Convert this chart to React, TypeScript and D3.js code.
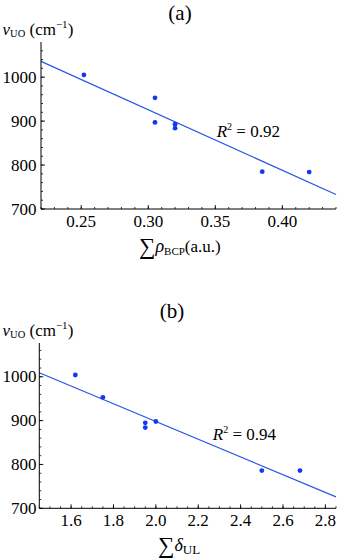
import React from "react";
import * as d3 from "d3";

const W = 338;
const H = 559;

// ---- Panel (a) data ----
const rhoBCP = [0.252, 0.305, 0.305, 0.32, 0.32, 0.385, 0.42];
const nuA = [1005, 953, 897, 893, 884, 785, 784];
const fitAx = [0.22, 0.44];
const fitAy = [1036, 733];
const xTicksA = [0.25, 0.3, 0.35, 0.4];
const xTickLabelsA = ["0.25", "0.30", "0.35", "0.40"];
const r2A = "0.92";

// ---- Panel (b) data ----
const deltaUL = [1.62, 1.75, 1.95, 1.95, 2.0, 2.5, 2.68];
const nuB = [1004, 953, 895, 884, 898, 786, 786];
const fitBx = [1.45, 2.85];
const fitBy = [1009, 726];
const xTicksB = [1.6, 1.8, 2.0, 2.2, 2.4, 2.6, 2.8];
const xTickLabelsB = ["1.6", "1.8", "2.0", "2.2", "2.4", "2.6", "2.8"];
const r2B = "0.94";

// shared y ticks
const yTicks = [700, 800, 900, 1000];
const yTickLabels = ["700", "800", "900", "1000"];

const FONT = "'Liberation Serif', 'Times New Roman', serif";
const BLUE_PT = "#1238f2";
const BLUE_LN = "#2a55e6";

type PanelProps = {
  xs: number[];
  ys: number[];
  fx: number[];
  fy: number[];
  xTicks: number[];
  xLabels: string[];
  xMinor: number[];
  yMinor: number[];
  xDomain: [number, number];
  yDomain: [number, number];
  left: number;
  right: number;
  top: number;
  bottom: number;
  r2: string;
  r2Pos: [number, number];
  title: string;
  titleX: number;
  titleY: number;
  yLabelY: number;
  xLabel: React.ReactNode;
};

function Panel(p: PanelProps) {
  const x = d3.scaleLinear().domain(p.xDomain).range([p.left, p.right]);
  const y = d3.scaleLinear().domain(p.yDomain).range([p.bottom, p.top]);
  const line = d3
    .line<number>()
    .x((_, i) => x(p.fx[i]))
    .y((d) => y(d));
  const ax = p.left;
  const ay = p.bottom;
  return (
    <g>
      <text x={p.titleX} y={p.titleY} fontFamily={FONT} fontSize={21} textAnchor="middle">
        {p.title}
      </text>
      <text x={2.5} y={p.yLabelY} fontFamily={FONT} fontSize={17}>
        <tspan fontStyle="italic">ν</tspan>
        <tspan fontSize={10.5} dy={2}>UO</tspan>
        <tspan dy={-2}> (cm</tspan>
        <tspan fontSize={11} dy={-7}>−1</tspan>
        <tspan dy={7}>)</tspan>
      </text>
      {/* fit line */}
      <path d={line(p.fy) || ""} fill="none" stroke={BLUE_LN} strokeWidth={1.2} />
      {/* axes */}
      <line x1={ax} x2={ax} y1={p.top} y2={ay} stroke="#000" strokeWidth={1} />
      <line x1={ax} x2={p.right} y1={ay} y2={ay} stroke="#000" strokeWidth={1} />
      {p.xMinor.map((t, i) => (
        <line key={"xm" + i} x1={x(t)} x2={x(t)} y1={ay} y2={ay - 2} stroke="#000" strokeWidth={0.8} />
      ))}
      {p.xTicks.map((t, i) => (
        <line key={"xM" + i} x1={x(t)} x2={x(t)} y1={ay} y2={ay - 4} stroke="#000" strokeWidth={0.9} />
      ))}
      {p.yMinor.map((t, i) => (
        <line key={"ym" + i} x1={ax} x2={ax + 2} y1={y(t)} y2={y(t)} stroke="#000" strokeWidth={0.8} />
      ))}
      {yTicks.map((t, i) => (
        <line key={"yM" + i} x1={ax} x2={ax + 4} y1={y(t)} y2={y(t)} stroke="#000" strokeWidth={0.9} />
      ))}
      {p.xTicks.map((t, i) => (
        <text key={"xl" + i} x={x(t)} y={ay + 17.5} fontFamily={FONT} fontSize={17} textAnchor="middle">
          {p.xLabels[i]}
        </text>
      ))}
      {yTicks.map((t, i) => (
        <text key={"yl" + i} x={36.5} y={y(t) + 5.5} fontFamily={FONT} fontSize={17} textAnchor="end">
          {yTickLabels[i]}
        </text>
      ))}
      {/* points */}
      {p.xs.map((v, i) => (
        <circle key={"p" + i} cx={x(v)} cy={y(p.ys[i])} r={2.4} fill={BLUE_PT} />
      ))}
      {/* R^2 */}
      <text x={x(p.r2Pos[0])} y={y(p.r2Pos[1])} fontFamily={FONT} fontSize={17}>
        <tspan fontStyle="italic">R</tspan>
        <tspan fontSize={10} dy={-7}>2</tspan>
        <tspan dy={7}> = {p.r2}</tspan>
      </text>
      {p.xLabel}
    </g>
  );
}

export default function App() {
  const xMinorA = d3.range(22, 45).map((i) => i / 100);
  const xMinorB = d3.range(29, 58).map((i) => i / 20);
  const yMinor = d3.range(35, 54).map((i) => i * 20);
  return (
    <svg
      width={W}
      height={H}
      style={{ position: "absolute", left: 0, top: 0, background: "#fff" }}
    >
      <rect x={0} y={0} width={W} height={H} fill="#fff" />
      <Panel
        xs={rhoBCP}
        ys={nuA}
        fx={fitAx}
        fy={fitAy}
        xTicks={xTicksA}
        xLabels={xTickLabelsA}
        xMinor={xMinorA}
        yMinor={yMinor}
        xDomain={[0.22, 0.44]}
        yDomain={[700, 1080]}
        left={41}
        right={336}
        top={42}
        bottom={209}
        r2={r2A}
        r2Pos={[0.351, 864]}
        title="(a)"
        titleX={180}
        titleY={20}
        yLabelY={35}
        xLabel={
          <text x={139} y={252} fontFamily={FONT} fontSize={17}>
            <tspan fontSize={23} dy={2}>∑</tspan>
            <tspan fontStyle="italic" fontSize={18} dy={-2}>ρ</tspan>
            <tspan fontSize={11} dy={3}>BCP</tspan>
            <tspan dy={-3}>(a.u.)</tspan>
          </text>
        }
      />
      <Panel
        xs={deltaUL}
        ys={nuB}
        fx={fitBx}
        fy={fitBy}
        xTicks={xTicksB}
        xLabels={xTickLabelsB}
        xMinor={xMinorB}
        yMinor={yMinor}
        xDomain={[1.45, 2.85]}
        yDomain={[700, 1077]}
        left={39.3}
        right={336}
        top={343}
        bottom={508.3}
        r2={r2B}
        r2Pos={[2.269, 856]}
        title="(b)"
        titleX={172}
        titleY={318}
        yLabelY={335.5}
        xLabel={
          <text x={158} y={551} fontFamily={FONT} fontSize={17}>
            <tspan fontSize={23} dy={2}>∑</tspan>
            <tspan fontStyle="italic" fontSize={18} dy={-2}>δ</tspan>
            <tspan fontSize={13} dy={3}>UL</tspan>
          </text>
        }
      />
    </svg>
  );
}
